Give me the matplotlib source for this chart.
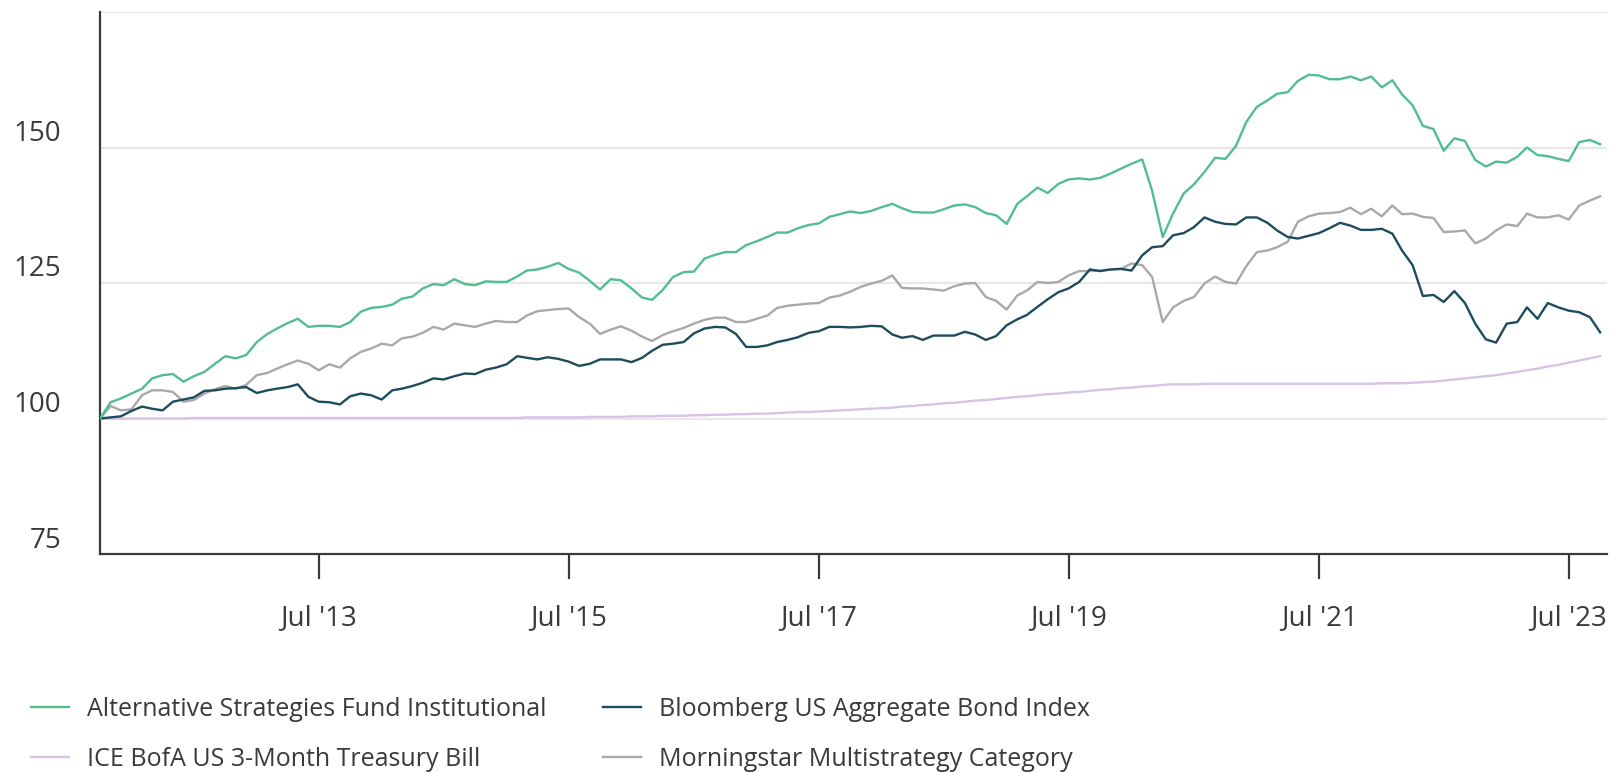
import matplotlib

matplotlib.use("Agg")

import matplotlib.pyplot as plt
import matplotlib.transforms as mtransforms
import pandas as pd

plt.rcParams["font.family"] = ["Open Sans", "DejaVu Sans"]

# month-end growth of 100, Sep 2011 .. Sep 2023
dates = pd.date_range("2011-09-30", periods=145, freq="ME")

alt_strategies = [
    100.0, 103.0, 103.7, 104.6, 105.5, 107.4, 108.0, 108.2, 106.8, 107.8, 108.6, 110.1,
    111.5, 111.1, 111.7, 114.1, 115.6, 116.6, 117.6, 118.4, 116.9, 117.1, 117.1, 116.9,
    117.8, 119.7, 120.4, 120.6, 121.0, 122.1, 122.5, 124.0, 124.8, 124.6, 125.7, 124.8,
    124.6, 125.3, 125.2, 125.2, 126.2, 127.3, 127.5, 128.0, 128.7, 127.6, 126.9, 125.4,
    123.8, 125.7, 125.5, 124.0, 122.3, 121.9, 123.7, 126.1, 127.0, 127.1, 129.5, 130.2,
    130.7, 130.7, 132.0, 132.7, 133.5, 134.3, 134.3, 135.1, 135.7, 136.0, 137.2, 137.7,
    138.2, 137.9, 138.3, 139.0, 139.6, 138.8, 138.1, 138.0, 138.0, 138.6, 139.3, 139.5,
    139.0, 137.9, 137.5, 135.9, 139.6, 141.0, 142.6, 141.6, 143.3, 144.1, 144.3, 144.1,
    144.4, 145.2, 146.1, 147.0, 147.8, 142.0, 133.5, 137.8, 141.5, 143.2, 145.5, 148.1,
    147.9, 150.3, 154.7, 157.5, 158.7, 159.9, 160.2, 162.3, 163.4, 163.3, 162.6, 162.6,
    163.1, 162.4, 163.1, 161.1, 162.4, 159.8, 157.8, 154.0, 153.4, 149.4, 151.7, 151.2,
    147.7, 146.5, 147.4, 147.2, 148.3, 150.0, 148.6, 148.4, 147.9, 147.5, 151.0, 151.4,
    150.6,
]

bloomberg_agg = [
    100.0, 100.2, 100.4, 101.4, 102.2, 101.8, 101.5, 103.1, 103.5, 103.9, 105.1, 105.2,
    105.5, 105.6, 105.8, 104.7, 105.2, 105.5, 105.8, 106.3, 104.0, 103.1, 103.0, 102.6,
    104.1, 104.6, 104.3, 103.5, 105.2, 105.5, 106.0, 106.6, 107.4, 107.2, 107.8, 108.3,
    108.2, 109.0, 109.4, 110.0, 111.5, 111.2, 110.9, 111.3, 111.0, 110.5, 109.7, 110.1,
    110.9, 110.9, 110.9, 110.4, 111.2, 112.5, 113.6, 113.8, 114.1, 115.7, 116.6, 116.9,
    116.8, 115.6, 113.2, 113.2, 113.5, 114.1, 114.5, 115.0, 115.8, 116.1, 116.9, 116.9,
    116.8, 116.9, 117.1, 117.0, 115.5, 114.9, 115.2, 114.5, 115.3, 115.3, 115.3, 116.0,
    115.5, 114.5, 115.2, 117.2, 118.3, 119.1, 120.6, 122.0, 123.3, 124.0, 125.2, 127.5,
    127.2, 127.5, 127.6, 127.3, 130.1, 131.6, 131.8, 133.8, 134.2, 135.3, 137.1, 136.3,
    135.9, 135.8, 137.1, 137.1, 136.1, 134.7, 133.5, 133.2, 133.7, 134.2, 135.1, 136.1,
    135.6, 134.8, 134.8, 135.0, 134.1, 131.0, 128.3, 122.6, 122.8, 121.5, 123.5, 121.3,
    117.5, 114.6, 114.0, 117.5, 117.8, 120.5, 118.4, 121.3, 120.5, 119.9, 119.6, 118.7,
    115.9,
]

ice_tbill = [
    100.0, 100.0, 100.0, 100.0, 100.0, 100.0, 100.0, 100.0, 100.0, 100.1, 100.1, 100.1,
    100.1, 100.1, 100.1, 100.1, 100.1, 100.1, 100.1, 100.1, 100.1, 100.1, 100.1, 100.1,
    100.1, 100.1, 100.1, 100.1, 100.1, 100.1, 100.1, 100.1, 100.1, 100.1, 100.1, 100.1,
    100.1, 100.1, 100.1, 100.1, 100.1, 100.2, 100.2, 100.2, 100.2, 100.2, 100.2, 100.3,
    100.3, 100.3, 100.3, 100.4, 100.4, 100.4, 100.5, 100.5, 100.5, 100.6, 100.6, 100.7,
    100.7, 100.8, 100.8, 100.9, 100.9, 101.0, 101.1, 101.2, 101.2, 101.3, 101.4, 101.5,
    101.6, 101.7, 101.8, 101.9, 102.0, 102.2, 102.3, 102.5, 102.6, 102.8, 102.9, 103.1,
    103.3, 103.4, 103.6, 103.8, 104.0, 104.1, 104.3, 104.5, 104.6, 104.8, 104.9, 105.1,
    105.3, 105.4, 105.6, 105.7, 105.9, 106.0, 106.2, 106.3, 106.3, 106.3, 106.4, 106.4,
    106.4, 106.4, 106.4, 106.4, 106.4, 106.4, 106.4, 106.4, 106.4, 106.4, 106.4, 106.4,
    106.4, 106.4, 106.4, 106.5, 106.5, 106.5, 106.6, 106.7, 106.8, 107.0, 107.2, 107.4,
    107.6, 107.8, 108.0, 108.3, 108.6, 108.9, 109.2, 109.6, 109.9, 110.3, 110.7, 111.1,
    111.5,
]

morningstar_multi = [
    100.0, 102.3, 101.5, 101.7, 104.3, 105.2, 105.2, 104.9, 103.1, 103.4, 104.6, 105.4,
    106.0, 105.5, 106.2, 108.0, 108.4, 109.2, 110.0, 110.7, 110.1, 108.9, 110.0, 109.4,
    111.1, 112.3, 112.9, 113.8, 113.5, 114.8, 115.1, 115.8, 116.9, 116.4, 117.5, 117.2,
    116.9, 117.5, 118.0, 117.8, 117.8, 119.0, 119.8, 120.0, 120.2, 120.3, 118.7, 117.5,
    115.6, 116.4, 117.0, 116.2, 115.1, 114.3, 115.4, 116.1, 116.7, 117.5, 118.2, 118.6,
    118.6, 117.8, 117.8, 118.4, 119.0, 120.4, 120.8, 121.0, 121.2, 121.3, 122.3, 122.7,
    123.4, 124.3, 124.9, 125.4, 126.4, 124.1, 124.0, 124.0, 123.8, 123.6, 124.4, 124.9,
    125.0, 122.4, 121.7, 120.1, 122.7, 123.6, 125.2, 125.0, 125.2, 126.4, 127.2, 127.2,
    127.3, 127.5, 127.6, 128.6, 128.3, 126.1, 117.8, 120.5, 121.7, 122.4, 124.9, 126.2,
    125.2, 124.9, 128.1, 130.7, 131.0, 131.6, 132.6, 136.3, 137.3, 137.8, 137.9, 138.1,
    138.9, 137.7, 138.7, 137.3, 139.3, 137.7, 137.8, 137.2, 137.0, 134.4, 134.5, 134.7,
    132.3, 133.2, 134.7, 135.8, 135.5, 137.8, 137.1, 137.1, 137.5, 136.7, 139.3, 140.2,
    141.0,
]

SERIES = [
    ("Alternative Strategies Fund Institutional", alt_strategies, "#52bd92", 4),
    ("ICE BofA US 3-Month Treasury Bill", ice_tbill, "#d9c2e8", 1),
    ("Bloomberg US Aggregate Bond Index", bloomberg_agg, "#1e4b5e", 3),
    ("Morningstar Multistrategy Category", morningstar_multi, "#a9a9a9", 2),
]
y_ticks = [75, 100, 125, 150]
x_ticks = pd.to_datetime(["2013-07-01", "2015-07-01", "2017-07-01", "2019-07-01", "2021-07-01", "2023-07-01"])
x_labels = ["Jul '13", "Jul '15", "Jul '17", "Jul '19", "Jul '21", "Jul '23"]

TEXT = "#3a3a3a"
AXIS = "#3a3a3a"

fig = plt.figure(figsize=(16.1, 7.72), dpi=100)
ax = fig.add_axes([100 / 1610, 1 - 554 / 772, 1507 / 1610, 542 / 772])

handles = []
for label, values, color, z in SERIES:
    (line,) = ax.plot(dates, values, color=color, linewidth=1.7, label=label, zorder=z)
    handles.append(line)

ax.set_xlim(dates[0], dates[-1] + pd.Timedelta(days=20))
ax.set_ylim(75, 175)

for level in (100, 125, 150, 175):
    ax.axhline(level, color="#e8e8e8", linewidth=1.6, zorder=0)

ax.set_yticks(y_ticks)
ax.set_yticklabels([str(v) for v in y_ticks])
ax.tick_params(axis="y", length=0, pad=28, labelsize=20, labelcolor=TEXT)
offset = mtransforms.ScaledTranslation(0, 0.17, fig.dpi_scale_trans)
for tick_label in ax.get_yticklabels():
    tick_label.set_transform(tick_label.get_transform() + offset)

ax.set_xticks(x_ticks)
ax.set_xticklabels(x_labels)
ax.tick_params(axis="x", length=18, width=1.6, color=AXIS, pad=18, labelsize=20, labelcolor=TEXT)

for side in ("top", "right"):
    ax.spines[side].set_visible(False)
for side in ("left", "bottom"):
    ax.spines[side].set_color(AXIS)
    ax.spines[side].set_linewidth(1.6)

fig.legend(
    handles=handles,
    loc="upper left",
    bbox_to_anchor=(31 / 1610, 1 - 697 / 772),
    ncol=2,
    frameon=False,
    fontsize=18,
    handlelength=1.5,
    handletextpad=0.75,
    columnspacing=2.25,
    labelspacing=1.0,
    borderpad=0,
    borderaxespad=0,
    labelcolor=TEXT,
)

fig.savefig("out.png", dpi=100)
